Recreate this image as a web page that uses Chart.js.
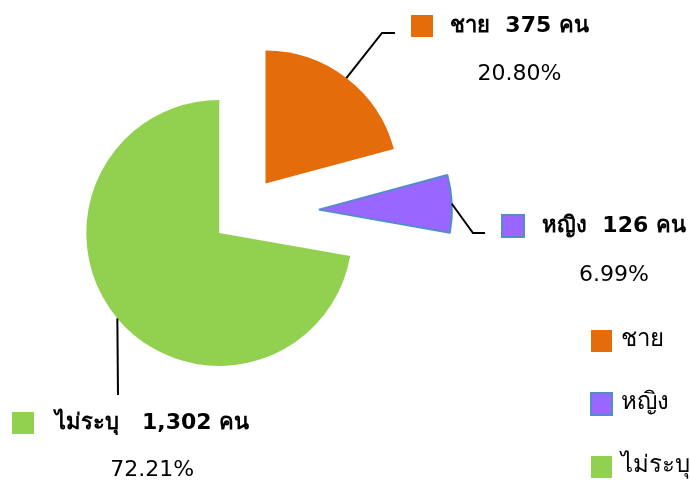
<!DOCTYPE html>
<html>
<head>
<meta charset="utf-8">
<script src="https://cdn.jsdelivr.net/npm/chart.js@4/dist/chart.umd.min.js"></script>
<style>
html,body{margin:0;padding:0;background:#fff;overflow:hidden}
#wrap{position:relative;width:690px;height:482px}
</style>
</head>
<body>
<div id="wrap"><canvas id="c" width="690" height="482"></canvas></div>
<script>
// ---- data ----
const categories = ['ชาย', 'หญิง', 'ไม่ระบุ'];
const counts = [375, 126, 1302];
const percentLabels = ['20.80%', '6.99%', '72.21%'];
const unitLabel = 'คน';

// ---- styles ----
const sliceColors = ['#E46C0A', '#9966FF', '#92D050'];
const sliceBorderColors = ['#E46C0A', '#538CCB', '#92D050'];
const sliceBorderWidths = [0, 2, 0];
const explodeDistances = [37, 76, 31];
const labelGaps = ['  ', '  ', '   '];
const FONT = 'Tahoma, "DejaVu Sans", "Noto Sans", sans-serif';
const LEGEND_FONT = '"Noto Sans", "DejaVu Sans", sans-serif';

// label layout (box top-left, text left/middle, leader path after arc point)
const labelLayout = [
  { box: [411, 15], text: [450, 26], pctDy: 48, path: [[382, 33], [395, 33]] },
  { box: [502, 215], text: [542, 226], pctDy: 49, path: [[473, 233], [485, 233]] },
  { box: [12, 412], text: [55, 423], pctDy: 47, path: [[118, 395]] }
];

const explodePlugin = {
  id: 'explode',
  afterDatasetsUpdate(chart) {
    const meta = chart.getDatasetMeta(0);
    meta.data.forEach((arc, i) => {
      const half = (arc.startAngle + arc.endAngle) / 2;
      arc.x += Math.cos(half) * explodeDistances[i];
      arc.y += Math.sin(half) * explodeDistances[i];
    });
  }
};

const labelsPlugin = {
  id: 'labelsAndLegend',
  afterDraw(chart) {
    const ctx = chart.ctx;
    const meta = chart.getDatasetMeta(0);
    ctx.save();
    meta.data.forEach((arc, i) => {
      const L = labelLayout[i];
      const half = (arc.startAngle + arc.endAngle) / 2;
      const sx = arc.x + Math.cos(half) * arc.outerRadius;
      const sy = arc.y + Math.sin(half) * arc.outerRadius;
      // leader line
      ctx.beginPath();
      ctx.strokeStyle = '#000';
      ctx.lineWidth = 2;
      ctx.moveTo(sx, sy);
      L.path.forEach(p => ctx.lineTo(p[0], p[1]));
      ctx.stroke();
      // box
      ctx.fillStyle = sliceColors[i];
      ctx.fillRect(L.box[0], L.box[1], 22, 22);
      if (sliceBorderWidths[i] > 0) {
        ctx.strokeStyle = sliceBorderColors[i];
        ctx.lineWidth = 2;
        ctx.strokeRect(L.box[0], L.box[1], 22, 22);
      }
      // text
      ctx.fillStyle = '#000';
      ctx.font = 'bold 22px ' + FONT;
      ctx.textAlign = 'left';
      ctx.textBaseline = 'middle';
      const txt = categories[i] + labelGaps[i] + counts[i].toLocaleString('en-US') + ' ' + unitLabel;
      ctx.fillText(txt, L.text[0], L.text[1]);
      const w = ctx.measureText(txt).width;
      ctx.font = '22px ' + FONT;
      ctx.textAlign = 'center';
      ctx.fillText(percentLabels[i], L.text[0] + w / 2, L.text[1] + L.pctDy);
    });
    // legend
    const legX = 591, legY0 = 330, legStep = 63;
    categories.forEach((c, i) => {
      const y = legY0 + i * legStep;
      ctx.fillStyle = sliceColors[i];
      ctx.fillRect(legX, y, 21, 22);
      if (sliceBorderWidths[i] > 0) {
        ctx.strokeStyle = sliceBorderColors[i];
        ctx.lineWidth = 2;
        ctx.strokeRect(legX, y, 21, 22);
      }
      ctx.fillStyle = '#000';
      ctx.font = '24px ' + LEGEND_FONT;
      ctx.textAlign = 'left';
      ctx.textBaseline = 'middle';
      ctx.fillText(c, legX + 30, y + 9);
    });
    ctx.restore();
  }
};

new Chart(document.getElementById('c'), {
  type: 'pie',
  data: {
    labels: categories,
    datasets: [{
      data: counts,
      backgroundColor: sliceColors,
      borderColor: sliceBorderColors,
      borderWidth: sliceBorderWidths,
      clip: false
    }]
  },
  options: {
    responsive: false,
    animation: false,
    radius: 133,
    layout: { padding: { left: 0, top: 0, right: 204, bottom: 56 } },
    plugins: {
      legend: { display: false },
      tooltip: { enabled: false }
    }
  },
  plugins: [explodePlugin, labelsPlugin]
});
</script>
</body>
</html>
